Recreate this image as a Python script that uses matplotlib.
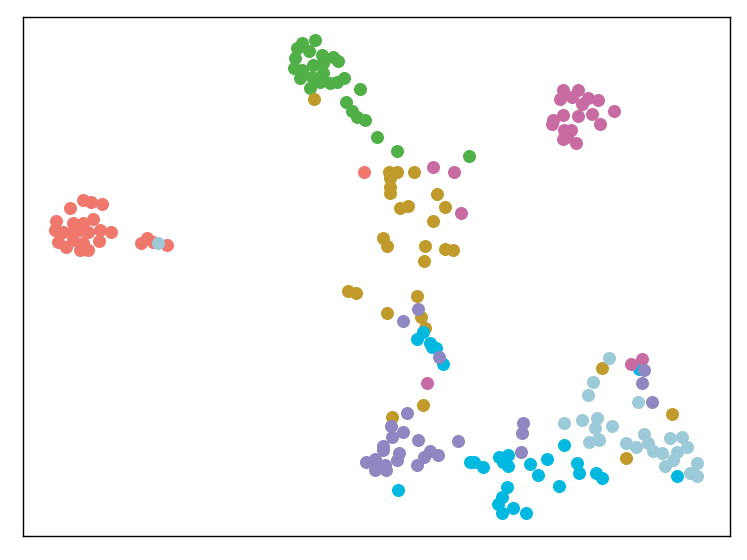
import matplotlib
matplotlib.use("Agg")
import matplotlib.pyplot as plt

# embedding coordinates (x to the right, y downwards)
red_x = [83, 91, 102, 70, 56, 73, 83, 93, 55, 63, 72, 80, 88, 100, 111, 58, 66, 80, 88, 99, 83, 73,
         141, 147, 153, 167, 364]
red_y = [200, 202, 204, 208, 221, 223, 223, 219, 230, 232, 233, 230, 232, 230, 232, 242, 247, 250, 250, 241, 243, 240,
         243, 238, 242, 245, 172]

green_x = [302, 315, 297, 309, 322, 333, 338, 295, 313, 323, 294, 302, 300, 312, 323, 320, 330, 337, 344, 310,
           360, 346, 352, 357, 365, 377, 397, 469]
green_y = [43, 40, 48, 51, 55, 57, 61, 58, 65, 63, 68, 70, 78, 77, 73, 82, 83, 82, 78, 88,
           89, 102, 111, 117, 120, 137, 151, 156]

gold_x = [314, 389, 397, 414, 390, 390, 390, 437, 400, 408, 445, 433, 383, 387, 425, 445, 453, 424,
          348, 356, 417, 387, 421, 425, 423, 392, 602, 672, 626]
gold_y = [99, 172, 172, 172, 178, 187, 193, 194, 208, 206, 207, 221, 238, 246, 246, 249, 250, 261,
          291, 293, 296, 313, 317, 328, 405, 417, 368, 414, 458]

lightblue_x = [158, 609, 593, 588, 638, 564, 582, 597, 595, 612, 598, 589, 626, 636, 644, 648, 653, 662,
               670, 682, 687, 677, 673, 665, 697, 690, 697, 599]
lightblue_y = [243, 358, 382, 395, 402, 423, 420, 418, 428, 426, 439, 442, 443, 447, 434, 443, 451, 453,
               438, 437, 447, 452, 460, 466, 463, 473, 476, 440]

cyan_x = [423, 417, 430, 432, 436, 443, 470, 398, 474, 483, 499, 508, 508, 503, 530, 547, 538, 564,
          577, 579, 596, 602, 559, 507, 502, 498, 502, 513, 526, 639, 677]
cyan_y = [332, 339, 343, 347, 348, 364, 462, 490, 462, 467, 457, 455, 466, 462, 464, 459, 475, 445,
          463, 473, 473, 478, 486, 487, 497, 504, 513, 508, 513, 369, 476]

pink_x = [563, 578, 560, 572, 588, 598, 582, 592, 614, 563, 578, 553, 552, 600, 564, 571, 563, 576, 567,
          433, 454, 461, 427, 631, 642]
pink_y = [90, 90, 99, 97, 98, 100, 104, 114, 111, 115, 116, 120, 124, 124, 130, 130, 139, 143, 137,
          167, 172, 213, 383, 364, 359]

purple_x = [403, 418, 439, 407, 391, 403, 392, 418, 458, 383, 383, 399, 430, 438, 424, 397, 417,
            366, 375, 375, 386, 385, 523, 522, 521, 644, 642, 652]
purple_y = [321, 309, 357, 413, 426, 432, 437, 440, 441, 446, 450, 453, 451, 455, 457, 460, 465,
            462, 459, 470, 470, 465, 423, 433, 452, 370, 383, 402]

groups = [
    (red_x, red_y, "#F0776C"),
    (green_x, green_y, "#50B047"),
    (gold_x, gold_y, "#C09A2A"),
    (lightblue_x, lightblue_y, "#9DCAD9"),
    (cyan_x, cyan_y, "#00B8E0"),
    (pink_x, pink_y, "#C96BA3"),
    (purple_x, purple_y, "#8E87C2"),
]

fig = plt.figure(figsize=(7.47, 5.6), dpi=100)
ax = fig.add_axes([23 / 747, 1 - 536 / 560, 707 / 747, 519 / 560])

for xs, ys, col in groups:
    ax.scatter(xs, ys, s=88, color=col, linewidths=0)

ax.set_xlim(23, 730)
ax.set_ylim(536, 17)
ax.set_xticks([])
ax.set_yticks([])
for sp in ax.spines.values():
    sp.set_linewidth(1.0)

fig.savefig("out.png", dpi=100)
